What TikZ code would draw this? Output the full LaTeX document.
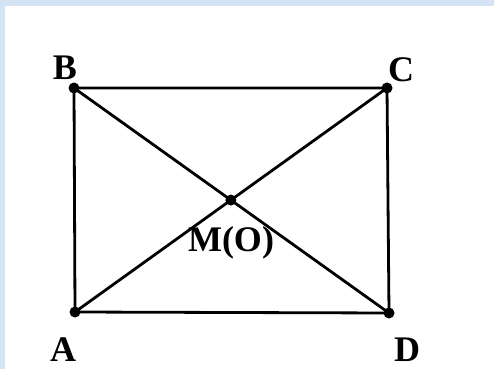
\documentclass[tikz,border=0pt]{standalone}
\usepackage{fontspec}
\setmainfont{Liberation Serif}
\usetikzlibrary{positioning}
\definecolor{bgblue}{RGB}{212,228,244}

\begin{document}
\begin{tikzpicture}[
    x=1pt, y=1pt,
    line cap=round,
    line join=round,
    edge/.style={line width=2.8pt},
    vertex/.style={circle,fill=black,inner sep=0pt,minimum size=11pt},
    ptlabel/.style={anchor=base,inner sep=0pt,font=\fontsize{36}{36}\selectfont\bfseries}
]

% Background
\fill[bgblue] (0,0) rectangle (494,369);
\fill[white] (5,0) rectangle (494,363);
\useasboundingbox (0,0) rectangle (494,369);

% Corners of the rectangle
\coordinate (A) at (75,57);
\coordinate (B) at (74,281);
\coordinate (C) at (387,281);
\coordinate (D) at (389,56);
\coordinate (M) at (intersection of A--C and B--D);

% Sides
\draw[edge] (A) -- (B) -- (C) -- (D) -- cycle;

% Diagonals
\draw[edge] (A) -- (C);
\draw[edge] (B) -- (D);

% Points
\foreach \p in {A,B,C,D,M}
    \node[vertex] (dot\p) at (\p) {};

% Labels
\node[ptlabel] (labB) at (65,289) {B};
\node[ptlabel] (labC) at (401,287) {C};
\node[ptlabel] (labA) at (63,8) {A};
\node[ptlabel] (labD) at (407,8) {D};
\node[ptlabel] (labM) at (231,117) {M(O)};

\end{tikzpicture}
\end{document}
